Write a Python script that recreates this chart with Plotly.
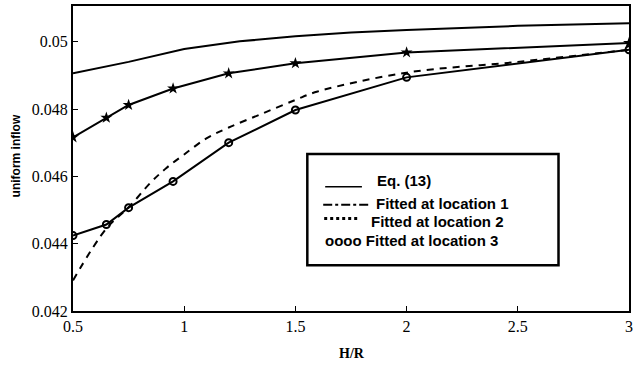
import plotly.graph_objects as go

# ---- data ----
eq_x = [0.5, 0.75, 1.0, 1.25, 1.5, 1.75, 2.0, 2.25, 2.5, 2.75, 3.0]
eq_y = [0.04906, 0.04940, 0.04978, 0.05001, 0.05016, 0.05027, 0.05035, 0.05042, 0.05047, 0.05051, 0.05055]

loc1_x = [0.5, 0.65, 0.75, 0.95, 1.2, 1.5, 2.0, 3.0]
loc1_y = [0.04716, 0.04774, 0.04812, 0.04861, 0.04906, 0.04936, 0.04968, 0.04996]

loc2_x = [0.5, 0.65, 0.75, 0.85, 0.92, 1.0, 1.1, 1.2, 1.35, 1.5, 1.6, 2.0, 2.5, 3.0]
loc2_y = [0.04291, 0.04445, 0.04508, 0.04582, 0.04625, 0.04665, 0.04713, 0.04745, 0.04786, 0.04827, 0.04852, 0.04908, 0.04940, 0.04976]

loc3_x = [0.5, 0.65, 0.75, 0.95, 1.2, 1.5, 2.0, 3.0]
loc3_y = [0.04424, 0.04457, 0.04507, 0.04585, 0.04700, 0.04797, 0.04894, 0.04976]

x_ticks = [0.5, 1, 1.5, 2, 2.5, 3]
x_tick_text = ["0.5", "1", "1.5", "2", "2.5", "3"]
y_ticks = [0.042, 0.044, 0.046, 0.048, 0.05]
y_tick_text = ["0.042", "0.044", "0.046", "0.048", "0.05"]

legend_labels = ["Eq. (13)", "Fitted at location 1", "Fitted at location 2", "oooo Fitted at location 3"]

# ---- layout helpers (pixel -> paper) ----
L, R, T, B = 73, 4, 4, 57
W, H = 637, 368
PW, PH = W - L - R, H - T - B


def px(x):
    return (x - L) / PW


def py(y):
    return (H - B - y) / PH


fig = go.Figure()
fig.add_trace(go.Scatter(x=eq_x, y=eq_y, mode="lines",
                         line=dict(color="black", width=2), showlegend=False))
fig.add_trace(go.Scatter(x=loc1_x, y=loc1_y, mode="lines+markers",
                         line=dict(color="black", width=2),
                         marker=dict(symbol="star", size=9, color="black"), showlegend=False))
fig.add_trace(go.Scatter(x=loc2_x, y=loc2_y, mode="lines", line_shape="spline",
                         line=dict(color="black", width=2, dash="7px,6px"), showlegend=False))
fig.add_trace(go.Scatter(x=loc3_x, y=loc3_y, mode="lines+markers",
                         line=dict(color="black", width=2),
                         marker=dict(symbol="circle-open", size=7, color="black", line=dict(width=2)),
                         showlegend=False))

axis_font = dict(family="Liberation Serif", size=16, color="black")
fig.update_xaxes(range=[0.5, 3], tickvals=x_ticks, ticktext=x_tick_text,
                 ticks="inside", ticklen=5, tickwidth=1, tickcolor="black",
                 showline=True, linecolor="black", linewidth=2, mirror=True,
                 showgrid=False, zeroline=False, tickfont=axis_font)
fig.update_yaxes(range=[0.042, 0.05106], tickvals=y_ticks, ticktext=y_tick_text,
                 ticks="inside", ticklen=5, tickwidth=1, tickcolor="black",
                 showline=True, linecolor="black", linewidth=2, mirror=True,
                 showgrid=False, zeroline=False, tickfont=axis_font)

shapes = []
annotations = []
# legend box
shapes.append(dict(type="rect", xref="paper", yref="paper",
                   x0=px(309), x1=px(562), y0=py(265), y1=py(153),
                   line=dict(color="black", width=2.5), fillcolor="white", layer="above"))
# legend samples
shapes.append(dict(type="line", xref="paper", yref="paper", x0=px(327), x1=px(364), y0=py(186), y1=py(186),
                   line=dict(color="black", width=1.5)))
shapes.append(dict(type="line", xref="paper", yref="paper", x0=px(325), x1=px(373), y0=py(204), y1=py(204),
                   line=dict(color="black", width=2, dash="dashdot")))
shapes.append(dict(type="line", xref="paper", yref="paper", x0=px(326), x1=px(360), y0=py(218), y1=py(218),
                   line=dict(color="black", width=3, dash="dot")))

leg_font = dict(family="Liberation Sans", size=15, color="black")
leg_pos = [(377, 180), (376, 203), (371, 221), (325, 240)]
for lab, (lx, ly) in zip(legend_labels, leg_pos):
    annotations.append(dict(text="<b>" + lab + "</b>", xref="paper", yref="paper",
                            x=px(lx), y=py(ly), xanchor="left", yanchor="middle",
                            showarrow=False, font=leg_font))

annotations.append(dict(text="<b>uniform inflow</b>", xref="paper", yref="paper",
                        x=px(16), y=py(155), xanchor="center", yanchor="middle",
                        textangle=-90, showarrow=False,
                        font=dict(family="Liberation Sans", size=12, color="black")))
annotations.append(dict(text="<b>H/R</b>", xref="paper", yref="paper",
                        x=px(354), y=py(354), xanchor="center", yanchor="middle",
                        showarrow=False,
                        font=dict(family="Liberation Serif", size=14, color="black")))

fig.update_layout(width=W, height=H, margin=dict(l=L, r=R, t=T, b=B),
                  paper_bgcolor="white", plot_bgcolor="white",
                  shapes=shapes, annotations=annotations, showlegend=False)

fig.write_html("out.html")
